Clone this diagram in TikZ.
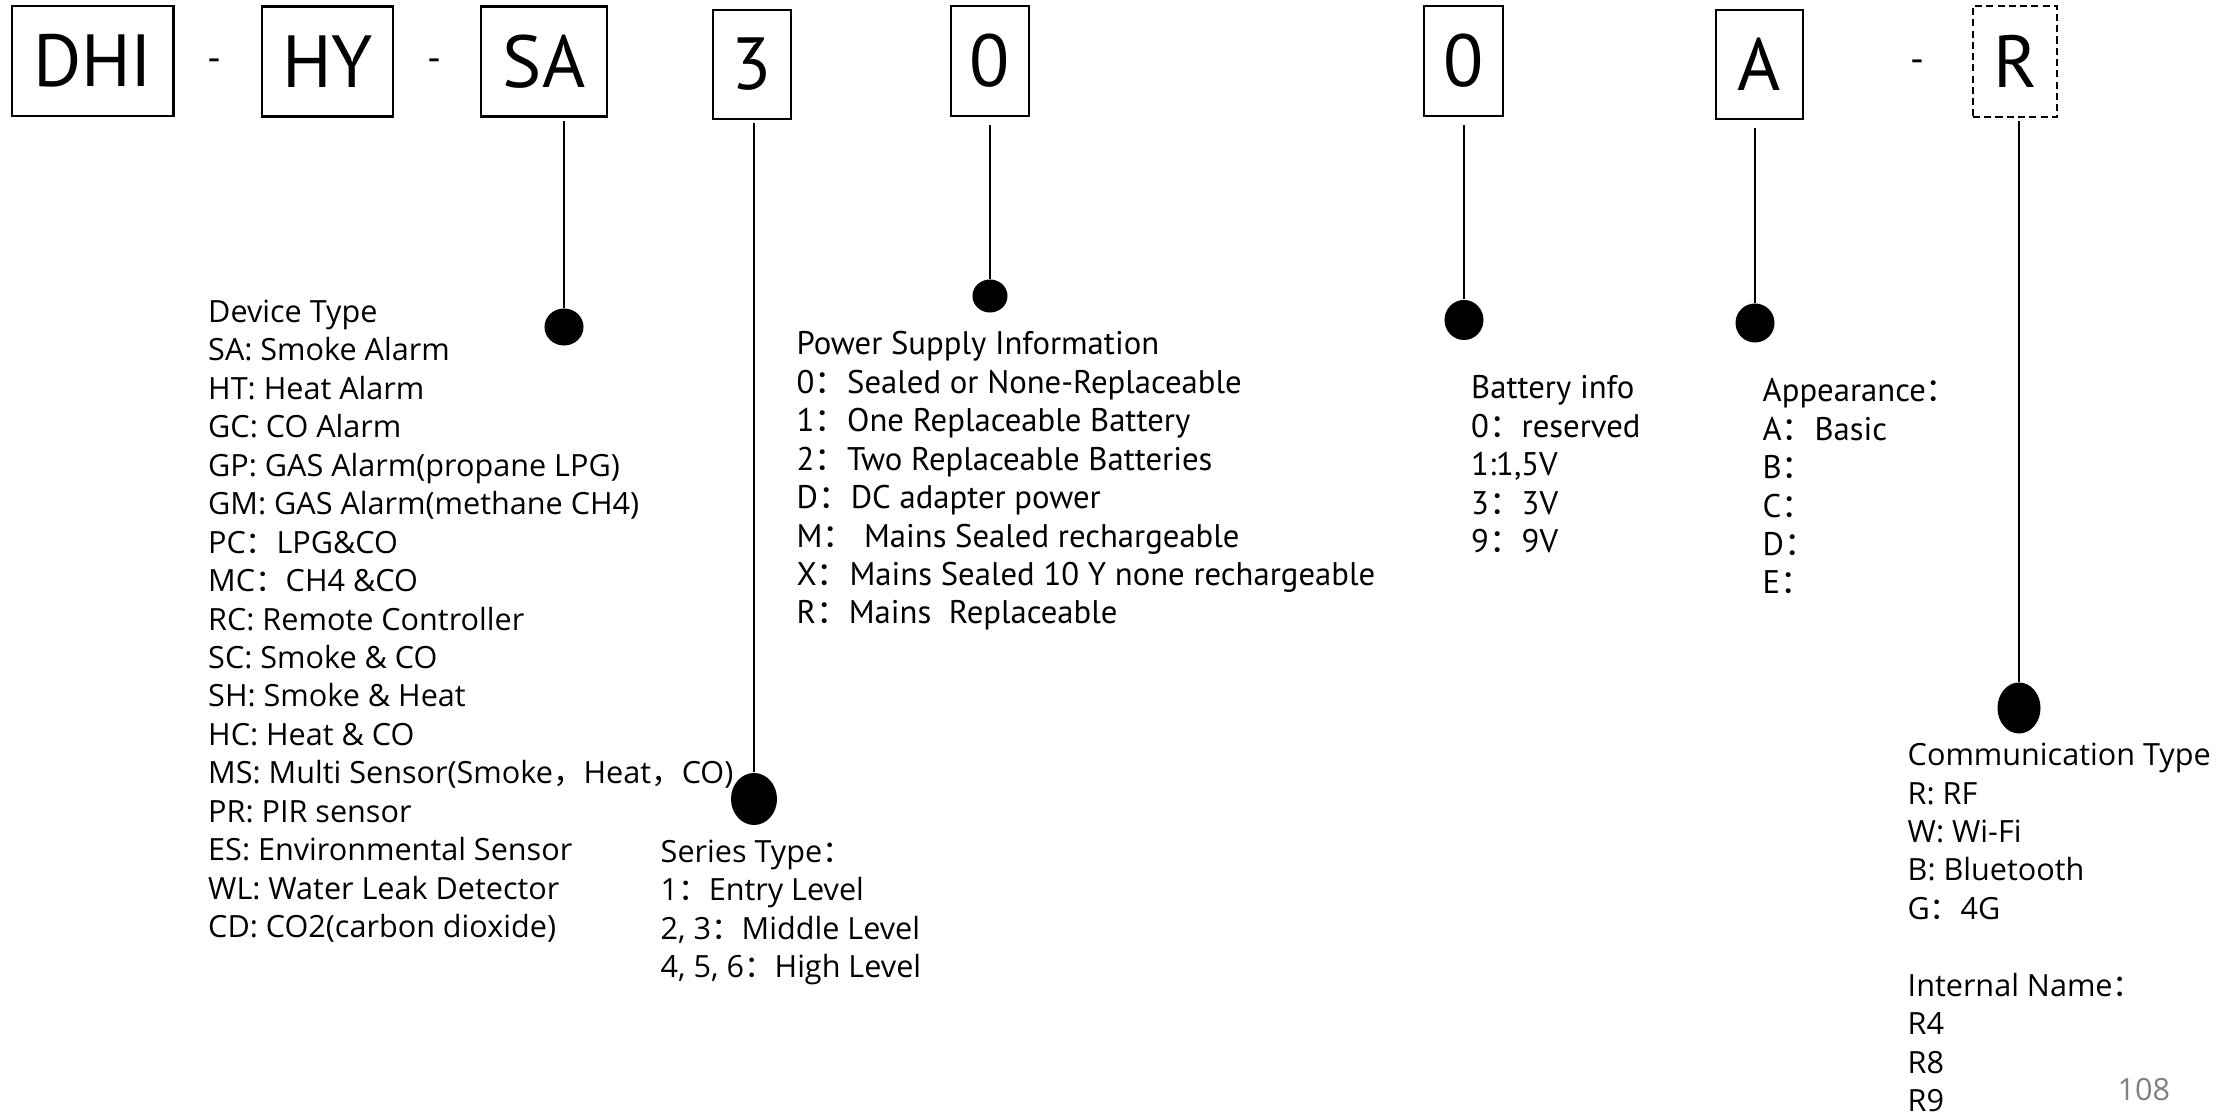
\documentclass[tikz,border=0pt]{standalone}
\usepackage{fontspec}
\setmainfont{Open Sans}
\newfontfamily\condfont{PT Sans}
\newfontfamily\cjk{Noto Sans CJK SC}
\usetikzlibrary{shapes.geometric, positioning}

\newcommand{\fc}{{\cjk ：}}
\newcommand{\fcm}{{\cjk ，}}

\begin{document}
\begin{tikzpicture}[
  x=0.01cm, y=-0.01cm,
  codebox/.style = {draw, semithick, inner sep=0pt,
                    font=\condfont\fontsize{21}{25}\selectfont},
  optbox/.style  = {codebox, dash pattern=on 2pt off 1.2pt},
  sep/.style     = {inner sep=0pt, font=\condfont\fontsize{11}{13}\selectfont},
  dot/.style     = {ellipse, fill=black, inner sep=0pt},
  lead/.style    = {thin},
  legend/.style  = {align=left, inner sep=0pt, anchor=base west,
                    font=\fontsize{8.7}{10.93}\selectfont},
  clegend/.style = {legend, font=\condfont\fontsize{9.3}{10.93}\selectfont},
]
\useasboundingbox (0,0) rectangle (2229,1116);

% code boxes
\node[codebox, minimum width=1.615cm, minimum height=1.10cm] (dhi)     at (92.75,61)  {DHI};
\node[sep] (d1) at (214,65) {-};
\node[codebox, minimum width=1.31cm,  minimum height=1.10cm] (hy)      at (327.5,61.5) {HY};
\node[sep] (d2) at (434,65) {-};
\node[codebox, minimum width=1.255cm, minimum height=1.10cm] (sa)      at (544,61.5)  {SA};
\node[codebox, minimum width=0.78cm,  minimum height=1.09cm] (series)  at (752,64.5)  {3};
\node[codebox, minimum width=0.775cm, minimum height=1.10cm] (power)   at (990,61)    {0};
\node[codebox, minimum width=0.79cm,  minimum height=1.10cm] (battery) at (1463.5,61) {0};
\node[codebox, minimum width=0.87cm,  minimum height=1.09cm] (look)    at (1759.5,64.5) {A};
\node[sep] (d3) at (1917,66) {-};
\node[optbox,  minimum width=0.84cm,  minimum height=1.11cm] (comm)    at (2015,61.5) {R};

% dots
\node[dot, minimum width=0.39cm, minimum height=0.37cm] (sadot)   at (564,327)  {};
\node[dot, minimum width=0.46cm, minimum height=0.52cm] (serdot)  at (754,799)  {};
\node[dot, minimum width=0.35cm, minimum height=0.33cm] (pwrdot)  at (990,296)  {};
\node[dot, minimum width=0.39cm, minimum height=0.40cm] (batdot)  at (1464,320) {};
\node[dot, minimum width=0.39cm, minimum height=0.39cm] (lookdot) at (1755,323) {};
\node[dot, minimum width=0.43cm, minimum height=0.51cm] (commdot) at (2019,708) {};

% leads
\draw[lead, shorten >=1pt]   (sadot)   -- (sadot |- sa.south);
\draw[lead, shorten >=0.8pt] (serdot)  -- (serdot |- series.south);
\draw[lead, shorten >=2.2pt] (pwrdot)  -- (pwrdot |- power.south);
\draw[lead, shorten >=2.2pt] (batdot)  -- (batdot |- battery.south);
\draw[lead, shorten >=2.2pt] (lookdot) -- (lookdot |- look.south);
\draw[lead, shorten >=0.8pt] (commdot) -- (commdot |- comm.south);

% legends (placed at the baseline of their last line)
\node[legend] (devtxt) at (207.5,937.5) {Device Type\\
  SA: Smoke Alarm\\
  HT: Heat Alarm\\
  GC: CO Alarm\\
  GP: GAS Alarm(propane LPG)\\
  GM: GAS Alarm(methane CH4)\\
  PC\fc LPG\&CO\\
  MC\fc CH4 \&CO\\
  RC: Remote Controller\\
  SC: Smoke \& CO\\
  SH: Smoke \& Heat\\
  HC: Heat \& CO\\
  MS: Multi Sensor(Smoke\fcm Heat\fcm CO)\\
  PR: PIR sensor\\
  ES: Environmental Sensor\\
  WL: Water Leak Detector\\
  CD: CO2(carbon dioxide)};

\node[legend] (sertxt) at (660,977.5) {Series Type\fc\\
  1\fc Entry Level\\
  2, 3\fc Middle Level\\
  4, 5, 6\fc High Level};

\node[clegend] (pwrtxt) at (796,624) {Power Supply Information\\
  0\fc Sealed or None-Replaceable\\
  1\fc One Replaceable Battery\\
  2\fc Two Replaceable Batteries\\
  D\fc DC adapter power\\
  M\fc\ Mains Sealed rechargeable\\
  X\fc Mains Sealed 10 Y none rechargeable\\
  R\fc Mains\ \ Replaceable};

\node[clegend] (battxt) at (1470.5,552.5) {Battery info\\
  0\fc reserved\\
  1:1,5V\\
  3\fc 3V\\
  9\fc 9V};

\node[clegend] (looktxt) at (1762,594) {Appearance\fc\\
  A\fc Basic\\
  B\fc\\
  C\fc\\
  D\fc\\
  E\fc};

\node[legend] (commtxt) at (1907,1111.5) {Communication Type\\
  R: RF\\
  W: Wi-Fi\\
  B: Bluetooth\\
  G\fc 4G\\[10.93pt]
  Internal Name\fc\\
  R4\\
  R8\\
  R9};

\node[legend, text=gray] (page) at (2117,1101) {108};

\end{tikzpicture}
\end{document}
